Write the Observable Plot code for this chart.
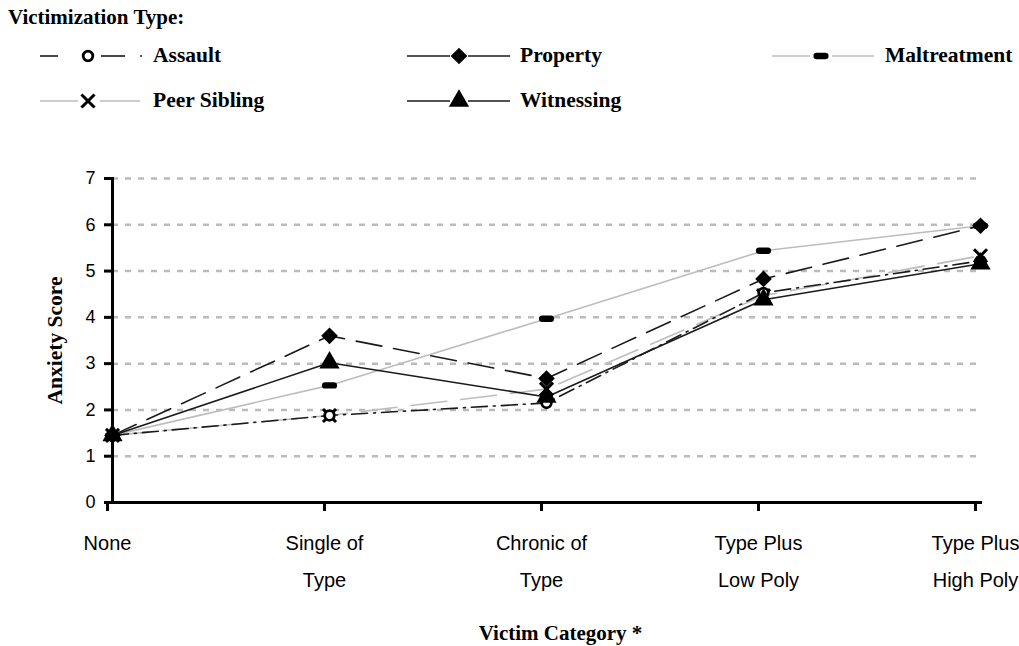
<!DOCTYPE html>
<html>
<head>
<meta charset="utf-8">
<script src="https://cdn.jsdelivr.net/npm/d3@7"></script>
<script src="https://cdn.jsdelivr.net/npm/@observablehq/plot@0.6"></script>
<style>
  html, body { margin: 0; padding: 0; background: #fff; }
  #wrap { position: relative; width: 1019px; height: 646px; overflow: hidden; }
  #legend { position: relative; width: 1019px; height: 158px; font-family: "Liberation Serif", "Times New Roman", serif; font-weight: bold; color: #000; }
  #legend .title { position: absolute; left: 8px; top: 4px; font-size: 21px; line-height: 26px; }
  #legend .item { position: absolute; height: 24px; }
  #legend .item svg { position: absolute; left: 0; top: 0; }
  #legend .item span { position: absolute; top: -1px; font-size: 21.5px; line-height: 24px; white-space: nowrap; }
</style>
</head>
<body>
<div id="wrap">
  <div id="legend"><div class="title">Victimization Type:</div></div>
  <div id="chart"></div>
</div>
<script>
// ---- data ----
const categories = ["None", "Single of\nType", "Chronic of\nType", "Type Plus\nLow Poly", "Type Plus\nHigh Poly"];
const seriesNames = ["Assault", "Property", "Maltreatment", "Peer Sibling", "Witnessing"];
const assault      = [1.45, 1.88, 2.15, 4.53, 5.22];
const property     = [1.45, 3.60, 2.68, 4.83, 5.98];
const maltreatment = [1.45, 2.53, 3.97, 5.44, 5.98];
const peerSibling  = [1.45, 1.88, 2.45, 4.47, 5.33];
const witnessing   = [1.45, 3.02, 2.28, 4.38, 5.16];
const yTicks = [0, 1, 2, 3, 4, 5, 6, 7];
const gridTicks = [1, 2, 3, 4, 5, 6, 7];

const valuesBySeries = {
  "Assault": assault, "Property": property, "Maltreatment": maltreatment,
  "Peer Sibling": peerSibling, "Witnessing": witnessing
};
const data = seriesNames.flatMap(s => categories.map((c, i) => ({series: s, cat: c, value: valuesBySeries[s][i]})));

// custom "bar" symbol for Maltreatment
const barSymbol = {
  draw(ctx, size) {
    const w = Math.sqrt(size) * 1.55, h = w * 0.42, r = h / 2;
    ctx.moveTo(-w / 2 + r, -h / 2);
    ctx.lineTo(w / 2 - r, -h / 2);
    ctx.arc(w / 2 - r, 0, r, -Math.PI / 2, Math.PI / 2);
    ctx.lineTo(-w / 2 + r, h / 2);
    ctx.arc(-w / 2 + r, 0, r, Math.PI / 2, Math.PI * 1.5);
    ctx.closePath();
  }
};

const dark = "#1a1a1a", light = "#bdbdbd";
const styles = {
  "Assault":      {stroke: dark,  dash: "16,6,2,6", symbol: "circle", fill: "white", dotStroke: "black", dotStrokeWidth: 2.8, r: 4.8},
  "Property":     {stroke: dark,  dash: "26,12", symbol: "diamond2", fill: "black", dotStroke: "black", dotStrokeWidth: 0, r: 7.5},
  "Maltreatment": {stroke: light, dash: null, symbol: barSymbol, fill: "black", dotStroke: "none", dotStrokeWidth: 0, r: 5.5},
  "Peer Sibling": {stroke: light, dash: "36,14", symbol: "times", fill: "none", dotStroke: "black", dotStrokeWidth: 3, r: 6},
  "Witnessing":   {stroke: dark,  dash: null, symbol: "triangle", fill: "black", dotStroke: "black", dotStrokeWidth: 0, r: 7.5}
};
const drawOrder = ["Maltreatment", "Peer Sibling", "Assault", "Witnessing", "Property"];
const serif = "Liberation Serif, Times New Roman, serif";

const marks = [
  Plot.ruleY(gridTicks, {stroke: "#bbbbbb", strokeWidth: 2.5, strokeDasharray: "6,7"}),
  ...drawOrder.map(s => Plot.line(data.filter(d => d.series === s), {
    x: "cat", y: "value", stroke: styles[s].stroke, strokeWidth: 1.6,
    strokeDasharray: styles[s].dash || undefined
  })),
  ...drawOrder.map(s => Plot.dot(data.filter(d => d.series === s), {
    x: "cat", y: "value", symbol: styles[s].symbol, r: styles[s].r,
    fill: styles[s].fill, stroke: styles[s].dotStroke, strokeWidth: styles[s].dotStrokeWidth
  })),
  Plot.frame({anchor: "left", stroke: "black", strokeWidth: 3}),
  Plot.frame({anchor: "bottom", stroke: "black", strokeWidth: 3}),
  Plot.axisY({ticks: yTicks, tickFormat: "d", tickSize: 8, tickPadding: 9, fontSize: 18, label: null, strokeWidth: 3}),
  Plot.axisX({tickSize: 9, tickPadding: 12, fontSize: 20, lineHeight: 1.85, dx: -5, label: null, strokeWidth: 3}),
  Plot.text(["Anxiety Score"], {frameAnchor: "left", textAnchor: "middle", dx: -57, rotate: -90, fontSize: 21.5, fontWeight: "bold", fontFamily: serif, fill: "black"}),
  Plot.text(["Victim Category *"], {frameAnchor: "bottom", textAnchor: "middle", lineAnchor: "middle", dx: 14, dy: 131, fontSize: 21, fontWeight: "bold", fontFamily: serif, fill: "black"})
];

const chart = Plot.plot({
  width: 1019,
  height: 488,
  marginTop: 20,
  marginLeft: 112,
  marginRight: 39,
  marginBottom: 144,
  style: {fontFamily: "Liberation Sans, Arial, sans-serif", color: "black", background: "white", overflow: "visible"},
  x: {type: "point", domain: categories, padding: 0},
  y: {domain: [0, 7]},
  marks
});
document.getElementById("chart").appendChild(chart);

// ---- legend ----
const legendItems = [
  {name: "Assault",      left: 30,  top: 44, lineColor: dark,  segs: [[10, 28], [71, 95]], dot: 111, sym: 58},
  {name: "Property",     left: 405, top: 44, lineColor: dark,  segs: [[2, 45], [63, 105]], sym: 54},
  {name: "Maltreatment", left: 770, top: 44, lineColor: light, segs: [[2, 40], [62, 104]], sym: 51},
  {name: "Peer Sibling", left: 30,  top: 89, lineColor: light, segs: [[10, 48], [70, 110]], sym: 58},
  {name: "Witnessing",   left: 405, top: 89, lineColor: dark,  segs: [[2, 45], [63, 105]], sym: 54}
];
const labelLeft = {"Assault": 123, "Property": 115, "Maltreatment": 115, "Peer Sibling": 123, "Witnessing": 115};
const legend = d3.select("#legend");
for (const it of legendItems) {
  const st = styles[it.name];
  const div = legend.append("div").attr("class", "item").style("left", it.left + "px").style("top", it.top + "px");
  const svg = div.append("svg").attr("width", 120).attr("height", 24);
  for (const [a, b] of it.segs) {
    svg.append("line").attr("x1", a).attr("x2", b).attr("y1", 12).attr("y2", 12)
      .attr("stroke", it.lineColor).attr("stroke-width", 1.6);
  }
  if (it.dot) svg.append("circle").attr("cx", it.dot).attr("cy", 12).attr("r", 1).attr("fill", dark);
  const r = st.r;
  const symType = typeof st.symbol === "string"
    ? ({circle: d3.symbolCircle, diamond2: d3.symbolDiamond2, times: d3.symbolTimes, triangle: d3.symbolTriangle})[st.symbol]
    : st.symbol;
  svg.append("path")
    .attr("transform", `translate(${it.sym},12)`)
    .attr("d", d3.symbol(symType, Math.PI * r * r)())
    .attr("fill", st.fill)
    .attr("stroke", st.dotStroke)
    .attr("stroke-width", st.dotStrokeWidth);
  div.append("span").style("left", labelLeft[it.name] + "px").text(it.name);
}
</script>
</body>
</html>
